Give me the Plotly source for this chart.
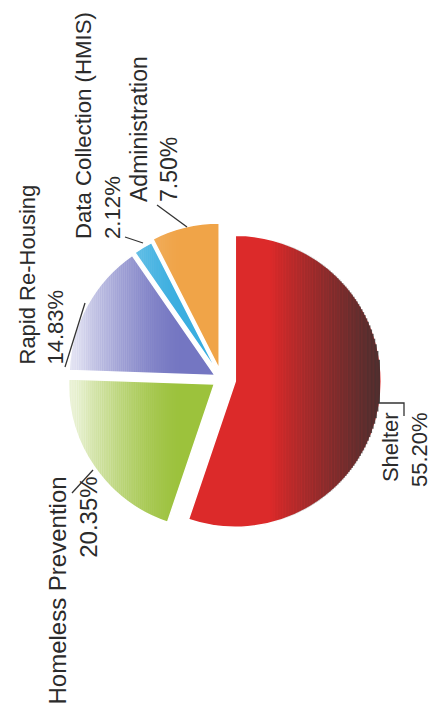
import math
import plotly.graph_objects as go

# ---- data ----
labels = ["Shelter", "Homeless Prevention", "Rapid Re-Housing",
          "Data Collection (HMIS)", "Administration"]
values = [55.20, 20.35, 14.83, 2.12, 7.50]
pct_text = ["55.20%", "20.35%", "14.83%", "2.12%", "7.50%"]

# ---- style ----
colors = ["#dc2a2a", "#9cc23c", "#7476c2", "#3aaee0", "#f0a448"]
pulls = [0.095, 0.06, 0.05, 0.05, 0.07]

W, H = 429, 719
CX, CY, R = 221.6, 379.0, 146.0
half = R * (1 + max(pulls))


def px(x):
    return x / W


def py(y):
    return 1 - y / H


fig = go.Figure(go.Pie(
    labels=labels, values=values, sort=False, direction="clockwise",
    rotation=0, pull=pulls, textinfo="none", hoverinfo="skip",
    marker=dict(colors=colors, line=dict(color="white", width=1.5)),
    domain=dict(x=[px(CX - half), px(CX + half)],
                y=[py(CY + half), py(CY - half)]),
    showlegend=False,
))

shapes = []
# soft white fade on the left side of the pie (gradient look)
n = 60
x0, x1 = 60, 185
for i in range(n):
    t = i / (n - 1)
    op = 0.93 * (1 - t) ** 1.6
    shapes.append(dict(type="rect", xref="paper", yref="paper",
                       x0=px(x0 + (x1 - x0) * i / n), x1=px(x0 + (x1 - x0) * (i + 1) / n + 0.3),
                       y0=py(535), y1=py(215), fillcolor="white", opacity=op,
                       line=dict(width=0), layer="above"))

# dark shading toward the right rim of the first slice
tot = sum(values)
mid = math.radians(360 * values[0] / tot / 2)
sx = CX + pulls[0] * R * math.sin(mid)
sy = CY - pulls[0] * R * math.cos(mid)
m = 70
d0 = 35.0
for i in range(m):
    a = d0 + (R - d0) * i / m
    b = d0 + (R - d0) * (i + 1) / m
    t = (i + 0.5) / m
    h = math.sqrt(max(R * R - b * b, 0.0))
    shapes.append(dict(type="rect", xref="paper", yref="paper",
                       x0=px(sx + a), x1=px(sx + b + 0.3),
                       y0=py(sy + h), y1=py(sy - h), fillcolor="#333030",
                       opacity=0.85 * t, line=dict(width=0), layer="above"))

# leader lines
leaders = [
    [(157, 205), (187, 227)],
    [(125, 237), (143, 243)],
    [(65, 367), (85, 303)],
    [(72, 493), (93, 470)],
    [(378, 403), (404, 403), (404, 416)],
]
for pts in leaders:
    path = "M " + " L ".join(f"{px(a)},{py(b)}" for a, b in pts)
    shapes.append(dict(type="path", xref="paper", yref="paper", path=path,
                       line=dict(color="#333333", width=1.3), layer="above"))

ann = []
# (index, x center px, y px, yanchor, align, font size)
label_pos = [
    (0, 404.5, 410, "top", "right", 22),
    (1, 72.5, 475, "top", "right", 24),
    (2, 41.5, 367, "bottom", "left", 22),
    (3, 97.5, 241, "bottom", "left", 22.2),
    (4, 154.0, 204, "bottom", "left", 23),
]
for i, xc, yp, ya, al, fs in label_pos:
    ann.append(dict(text=f"{labels[i]}<br>{pct_text[i]}", x=px(xc), y=py(yp),
                    xref="paper", yref="paper", xanchor="center", yanchor=ya,
                    align=al, textangle=-90, showarrow=False,
                    font=dict(family="Liberation Sans, Arial, sans-serif",
                              size=fs, color="#2b2b2b")))

fig.update_layout(width=W, height=H, margin=dict(l=0, r=0, t=0, b=0),
                  paper_bgcolor="white", plot_bgcolor="white",
                  shapes=shapes, annotations=ann)
fig.write_html("out.html", config={"displayModeBar": False},
               post_script="document.body.style.margin='0';"
                           "document.body.style.overflow='hidden';")
